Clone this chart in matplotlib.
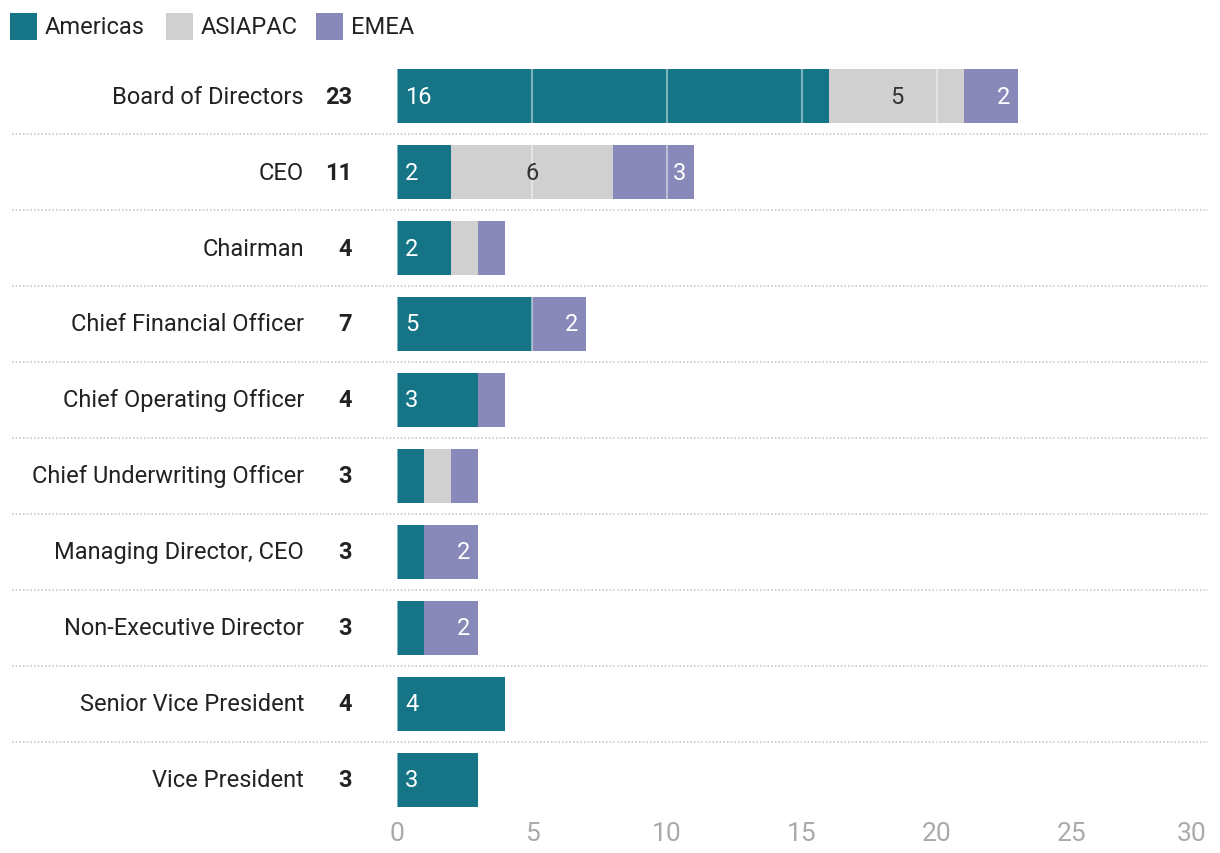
import matplotlib
matplotlib.use("Agg")
import matplotlib.pyplot as plt
from matplotlib.patches import Rectangle
import matplotlib.transforms as mtransforms
import numpy as np

plt.rcParams['font.family'] = ['Roboto', 'DejaVu Sans']

categories = ["Board of Directors", "CEO", "Chairman", "Chief Financial Officer",
              "Chief Operating Officer", "Chief Underwriting Officer",
              "Managing Director, CEO", "Non-Executive Director",
              "Senior Vice President", "Vice President"]
americas = [16, 2, 2, 5, 3, 1, 1, 1, 4, 3]
asiapac = [5, 6, 1, 0, 0, 1, 0, 0, 0, 0]
emea = [2, 3, 1, 2, 1, 1, 2, 2, 0, 0]
series_names = ["Americas", "ASIAPAC", "EMEA"]
colors = ["#157587", "#d0d0d0", "#8889b8"]
x_ticks = [0, 5, 10, 15, 20, 25, 30]

W, H = 1220, 854
FS = 17
fig = plt.figure(figsize=(W / 100, H / 100), dpi=100)
ax_left, ax_right = 397, 1207
ax = fig.add_axes([ax_left / W, 1 - 819 / H, (ax_right - ax_left) / W, (819 - 59) / H])

y = np.arange(len(categories))
am = np.array(americas); ap = np.array(asiapac); em = np.array(emea)
bh = 54 / 76
ax.barh(y, am, height=bh, color=colors[0], zorder=2)
ax.barh(y, ap, left=am, height=bh, color=colors[1], zorder=2)
ax.barh(y, em, left=am + ap, height=bh, color=colors[2], zorder=2)

ax.set_xlim(0, 30)
ax.set_ylim(len(categories) - 0.5, -0.5)
ax.set_xticks(x_ticks)
ax.set_xticklabels([str(t) for t in x_ticks])
ax.set_yticks([])
ax.tick_params(axis='x', length=0, pad=2, labelsize=19, labelcolor="#aaaaaa")
xl = ax.get_xticklabels()
xl[-1].set_horizontalalignment('right')
for s in ax.spines.values():
    s.set_visible(False)

for t in x_ticks:
    ax.axvline(t, color="white", alpha=0.45, lw=1.5, zorder=3)

px = 30 / (ax_right - ax_left)  # data units per pixel
for i in range(len(categories)):
    a, b, c = am[i], ap[i], em[i]
    if a >= 2:
        ax.text(8 * px, i, str(a), color="white", fontsize=FS, va="center", ha="left", zorder=4)
    if b >= 2:
        ax.text(a + b / 2, i, str(b), color="#333333", fontsize=FS, va="center", ha="center", zorder=4)
    if c >= 2:
        ax.text(a + b + c - 8 * px, i, str(c), color="white", fontsize=FS, va="center", ha="right", zorder=4)

trans = mtransforms.blended_transform_factory(fig.transFigure, ax.transData)
for i, cat in enumerate(categories):
    ax.text(304 / W, i, cat, transform=trans, ha="right", va="center", fontsize=FS, color="#222222")
    ax.text(352 / W, i, str(am[i] + ap[i] + em[i]), transform=trans, ha="right", va="center",
            fontsize=FS, fontweight="bold", color="#222222")

for i in range(len(categories) - 1):
    ax.plot([12 / W, 1208 / W], [i + 0.5, i + 0.5], transform=trans, clip_on=False,
            color="#c8c8c8", lw=1.2, linestyle=(0, (1, 1.2)), zorder=1)

# legend
leg_x = [10, 166, 316]
for name, col, lx in zip(series_names, colors, leg_x):
    fig.patches.append(Rectangle((lx / W, 1 - 41 / H), 27 / W, 27 / H, transform=fig.transFigure,
                                 facecolor=col, edgecolor="none"))
    fig.text((lx + 35) / W, 1 - 27 / H, name, ha="left", va="center", fontsize=FS, color="#222222")

fig.savefig("out.png", dpi=100)
